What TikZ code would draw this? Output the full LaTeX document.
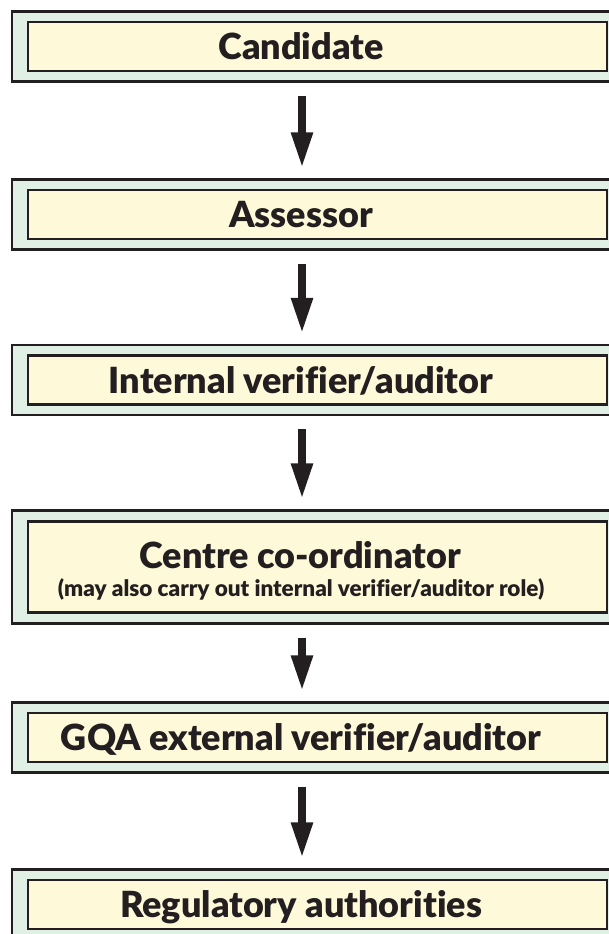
\documentclass[tikz,border=0pt]{standalone}
\usepackage{fontspec}
\setmainfont{Lato}[Ligatures=NoCommon,BoldFont={Lato Black}]
\usetikzlibrary{arrows.meta}

\definecolor{boxline}{HTML}{231F20}
\definecolor{outerfill}{HTML}{E0F0E5}
\definecolor{innerfill}{HTML}{FEF9D8}

\begin{document}
\begin{tikzpicture}[
    x=1pt, y=-1pt,
    outer box/.style={rectangle,draw=boxline,line width=2.2pt,fill=outerfill,
      minimum width=612pt,minimum height=70pt,inner sep=0pt},
    inner box/.style={rectangle,draw=boxline,line width=2.2pt,fill=innerfill,
      minimum width=579pt,minimum height=49pt,inner sep=0pt},
    title/.style={font=\bfseries\fontsize{36}{40}\selectfont,text=boxline,
      inner sep=0pt,text height=26pt,text depth=0pt},
    note/.style={font=\bfseries\fontsize{22.5}{26}\selectfont,text=boxline,
      inner sep=0pt,text height=16pt,text depth=0pt},
    flow/.style={line width=8pt,draw=boxline,-{Triangle[width=20pt,length=36pt]}},
    ]
  \fill[white] (0,0) rectangle (608,934);
  \useasboundingbox (0,0) rectangle (608,934);

  \node[outer box] (candidate) at (318,46.5) {};
  \node[inner box] at (317.5,46.5) {};
  \node[title] at (301,46.5) {Candidate};

  \node[outer box] (assessor) at (318,214.5) {};
  \node[inner box] at (317.5,214.5) {};
  \node[title] at (301,214.5) {Assessor};

  \node[outer box] (internal) at (318,380) {};
  \node[inner box] at (317.5,380) {};
  \node[title] at (301,380) {Internal verifier/auditor};

  \node[outer box,minimum height=113pt] (centre) at (318,567) {};
  \node[inner box,minimum height=91pt] at (317.5,567) {};
  \node[title] at (300,555) {Centre co-ordinator};
  \node[note] at (301,588) {(may also carry out internal verifier/auditor role)};

  \node[outer box] (external) at (318,737.5) {};
  \node[inner box] at (317.5,737.5) {};
  \node[title] at (301,737.5) {GQA external verifier/auditor};

  \node[outer box] (regulatory) at (318,904.5) {};
  \node[inner box] at (317.5,904.5) {};
  \node[title] at (301,904.5) {Regulatory authorities};

  \draw[flow] ([xshift=-16pt,yshift=-13pt]candidate.south) -- ([xshift=-16pt,yshift=10pt]assessor.north);
  \draw[flow] ([xshift=-16pt,yshift=-13pt]assessor.south) -- ([xshift=-16pt,yshift=10pt]internal.north);
  \draw[flow] ([xshift=-16pt,yshift=-13pt]internal.south) -- ([xshift=-16pt,yshift=10pt]centre.north);
  \draw[flow] ([xshift=-16pt,yshift=-13pt]centre.south) -- ([xshift=-16pt,yshift=10pt]external.north);
  \draw[flow] ([xshift=-16pt,yshift=-13pt]external.south) -- ([xshift=-16pt,yshift=10pt]regulatory.north);
\end{tikzpicture}
\end{document}
